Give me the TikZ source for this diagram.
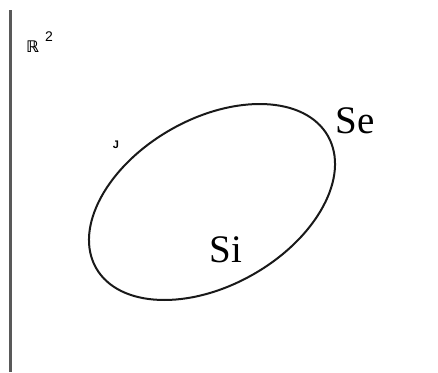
\documentclass[tikz,border=0pt]{standalone}
\usepackage{fontspec}
\setmainfont{Liberation Serif}
\newfontfamily\dejavu{DejaVu Sans}
\newfontfamily\libsans{Liberation Sans}
\begin{document}
\begin{tikzpicture}[x=1pt,y=-1pt,
  setline/.style={line width=2pt,draw=black!90},
  biglabel/.style={font=\fontsize{39}{39}\selectfont,inner sep=0pt,anchor=base},
  smalllabel/.style={font=\libsans\fontsize{14}{14}\selectfont,inner sep=0pt}]
\useasboundingbox (0,0) rectangle (438,372);
\coordinate (ltop) at (10.5,10);
\coordinate (lbot) at (10.5,372);
\draw[line width=2.2pt,draw=black!65] (ltop) -- (lbot);
\node[smalllabel,anchor=base west] (R) at (26,52) {\dejavu\bfseries\fontsize{16}{16}\selectfont ℝ};
\node[smalllabel,anchor=base west] (two) at (45,41) {2};
\node[font=\libsans\bfseries\fontsize{11}{11}\selectfont,inner sep=0pt] (J) at (116,145) {J};
\draw[setline,rotate around={29.7:(212,202)}] (212,202) ellipse [x radius=133.4,y radius=83.3];
\node[biglabel] (Se) at (355,133) {Se};
\node[biglabel] (Si) at (226,262) {Si};
\end{tikzpicture}
\end{document}
